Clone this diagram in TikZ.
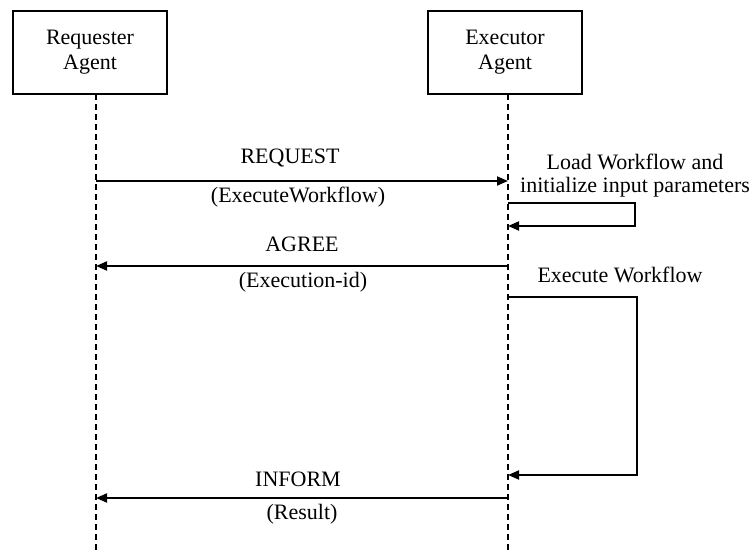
\documentclass[tikz,border=0pt]{standalone}
\usepackage{fontspec}
\setmainfont{Liberation Serif}
\usetikzlibrary{arrows.meta}
\begin{document}
\begin{tikzpicture}[x=1pt,y=-1pt,
  agentbox/.style={draw, line width=1.4pt, minimum width=154pt, minimum height=83pt,
    align=center, inner sep=0pt, font=\fontsize{22}{25}\selectfont},
  lifeline/.style={dashed, dash pattern=on 6pt off 4pt, line width=1.3pt},
  msg/.style={line width=1.8pt, -{Triangle[length=11pt,width=9pt]}},
  lbl/.style={font=\fontsize{22}{25}\selectfont, inner sep=0pt}]
  \useasboundingbox (0,0) rectangle (753,554);

  % agents
  \node[agentbox] (req) at (90,52.5) {Requester\\Agent};
  \node[agentbox] (exe) at (505,52.5) {Executor\\Agent};

  % lifelines
  \coordinate (reqtop) at (96,94);
  \coordinate (reqbot) at (96,554);
  \coordinate (exetop) at (508,94);
  \coordinate (exebot) at (508,554);
  \draw[lifeline] (reqtop) -- (reqbot);
  \draw[lifeline] (exetop) -- (exebot);

  % REQUEST
  \coordinate (m1a) at (96,181);
  \coordinate (m1b) at (508,181);
  \draw[msg] (m1a) -- (m1b);
  \node[lbl] (m1t) at (290,158) {REQUEST};
  \node[lbl] (m1s) at (298,197) {(ExecuteWorkflow)};

  % self call: load workflow
  \coordinate (s1a) at (508,203);
  \coordinate (s1c) at (635,203);
  \coordinate (s1d) at (635,226);
  \coordinate (s1b) at (508,226);
  \draw[msg] (s1a) -- (s1c) -- (s1d) -- (s1b);
  \node[lbl] (s1t) at (635,162) {Load Workflow and};
  \node[lbl] (s1u) at (635,187) {initialize input parameters};

  % AGREE
  \coordinate (m2a) at (508,266);
  \coordinate (m2b) at (96,266);
  \draw[msg] (m2a) -- (m2b);
  \node[lbl] (m2t) at (302,244) {AGREE};
  \node[lbl] (m2s) at (303,282) {(Execution-id)};

  % self call: execute workflow
  \coordinate (s2a) at (508,297);
  \coordinate (s2c) at (637,297);
  \coordinate (s2d) at (637,475);
  \coordinate (s2b) at (508,475);
  \draw[msg] (s2a) -- (s2c) -- (s2d) -- (s2b);
  \node[lbl] (s2t) at (620,275) {Execute Workflow};

  % INFORM
  \coordinate (m3a) at (508,498);
  \coordinate (m3b) at (96,498);
  \draw[msg] (m3a) -- (m3b);
  \node[lbl] (m3t) at (298,479) {INFORM};
  \node[lbl] (m3s) at (302,514) {(Result)};
\end{tikzpicture}
\end{document}
